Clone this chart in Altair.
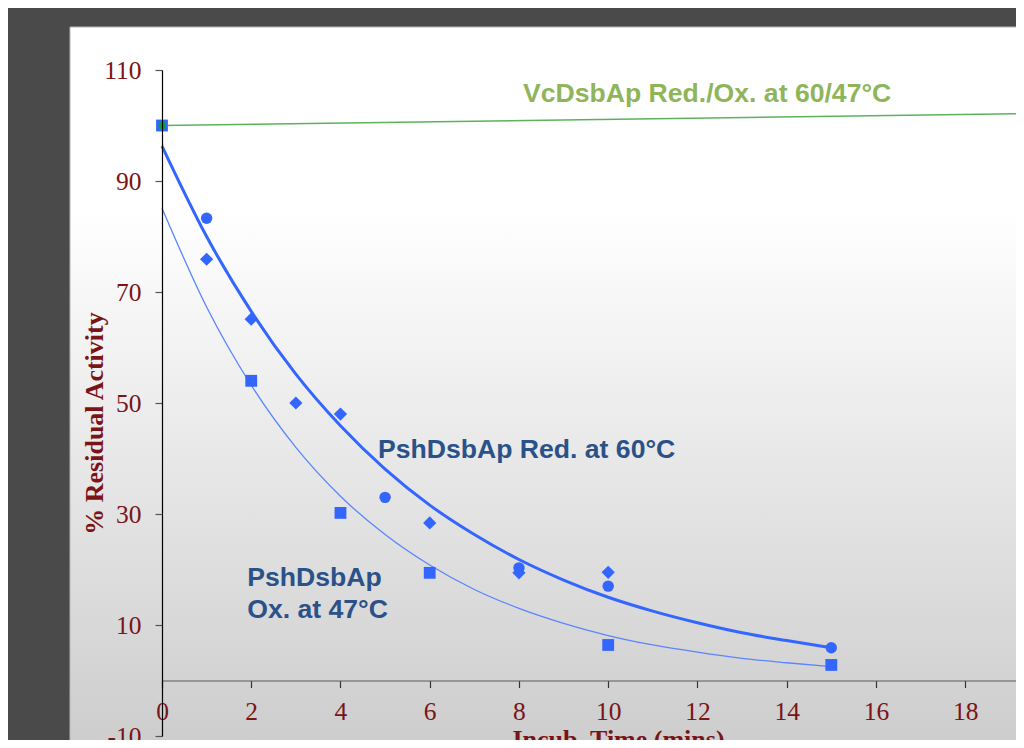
import altair as alt
import pandas as pd

# ---------------- data ----------------
# PshDsbAp Red. at 60°C, replicate 1 (circles)
time_circle = [1, 5, 8, 10, 15]
act_circle = [83.3, 33.0, 20.3, 17.0, 5.9]
# PshDsbAp Red. at 60°C, replicate 2 (diamonds)
time_diamond = [1, 2, 3, 4, 6, 8, 10]
act_diamond = [75.9, 65.1, 50.0, 48.0, 28.4, 19.4, 19.5]
# PshDsbAp Ox. at 47°C (squares)
time_square = [0, 2, 4, 6, 10, 15]
act_square = [100, 54.0, 30.2, 19.4, 6.4, 2.8]
# VcDsbAp Red./Ox. at 60/47°C (green)
time_vc = [0]
act_vc = [100]
vc_line_time = [0, 19.14]
vc_line_act = [100, 102.1]
# fitted decay curves
fit_time = [0, 1, 2, 3, 4, 5, 6, 7, 8, 9, 10, 11, 12, 13, 14, 15]
fit_red = [96.3, 80.0, 66.5, 55.2, 45.9, 38.1, 31.6, 26.3, 21.8, 18.1,
           15.0, 12.5, 10.4, 8.6, 7.2, 5.9]
fit_ox = [85.1, 67.3, 53.2, 42.0, 33.2, 26.3, 20.8, 16.4, 13.0, 10.3,
          8.1, 6.4, 5.1, 4.0, 3.2, 2.5]
# axis ticks
x_ticks = [0, 2, 4, 6, 8, 10, 12, 14, 16, 18]
y_ticks = [-10, 10, 30, 50, 70, 90, 110]
# annotations
label_text = ["VcDsbAp Red./Ox. at 60/47°C", "PshDsbAp Red. at 60°C",
              "PshDsbAp", "Ox. at 47°C"]
label_x = [8.09, 4.84, 1.91, 1.91]
label_y = [104.2, 40.1, 17.0, 11.3]
label_color = ["#8fb55a", "#2b5189", "#2b5189", "#2b5189"]

# ---------------- layout ----------------
W, H = 854, 666
XMAX = 19.14
YMIN, YMAX = -10, 110
DARKRED = "#7a1417"
BLUE = "#3366ff"
ZERO_FROM_BOTTOM = H * (0 - YMIN) / (YMAX - YMIN)

xscale = alt.Scale(domain=[0, XMAX], nice=False, zero=False)
yscale = alt.Scale(domain=[YMIN, YMAX], nice=False, zero=False)

xaxis = alt.Axis(
    values=x_ticks, orient="bottom", offset=-ZERO_FROM_BOTTOM,
    grid=False, domainColor="#5a5a5a", domainWidth=1.2,
    tickColor="#333333", tickSize=7, tickWidth=1.2,
    labelFont="Liberation Serif", labelFontSize=25.5, labelColor=DARKRED,
    labelPadding=12, labelFlush=False, labelOverlap=False,
    labelExpr="toString(datum.value)",
    title="Incub. Time (mins)", titleFont="Liberation Serif", titleFontSize=26,
    titleFontWeight="bold", titleColor=DARKRED, titleX=456, titleY=46,
    titleBaseline="top", titleAlign="center", zindex=1,
)
yaxis = alt.Axis(
    values=y_ticks, orient="left", grid=False,
    domainColor="black", domainWidth=1.2,
    tickColor="#555555", tickSize=7, tickWidth=1.2,
    labelFont="Liberation Serif", labelFontSize=25.5, labelColor=DARKRED,
    labelPadding=14, labelOverlap=False,
    labelExpr="toString(datum.value)",
    title="% Residual Activity", titleFont="Liberation Serif", titleFontSize=26,
    titleFontWeight="bold", titleColor=DARKRED, titleAngle=270,
    titleX=-68, titleY=353, titleAlign="center", titleBaseline="middle", zindex=1,
)

X = alt.X("t:Q", scale=xscale, axis=xaxis)
Y = alt.Y("v:Q", scale=yscale, axis=yaxis)

df_circle = pd.DataFrame({"t": time_circle, "v": act_circle})
df_diamond = pd.DataFrame({"t": time_diamond, "v": act_diamond})
df_square = pd.DataFrame({"t": time_square, "v": act_square})
df_vc = pd.DataFrame({"t": time_vc, "v": act_vc})
df_vc_line = pd.DataFrame({"t": vc_line_time, "v": vc_line_act})
df_red = pd.DataFrame({"t": fit_time, "v": fit_red})
df_ox = pd.DataFrame({"t": fit_time, "v": fit_ox})
df_lab = pd.DataFrame({"t": label_x, "v": label_y, "txt": label_text, "c": label_color})

panel = alt.Chart(pd.DataFrame({"a": [0]})).mark_rect(
    fill={
        "gradient": "linear", "x1": 0, "y1": 0, "x2": 0, "y2": 1,
        "stops": [
            {"offset": 0, "color": "#ffffff"},
            {"offset": 0.25, "color": "#ffffff"},
            {"offset": 1, "color": "#cbcbcb"},
        ],
    },
    stroke="#b5b5b5", strokeWidth=1,
).encode(
    x=alt.value(-92), x2=alt.value(W + 20), y=alt.value(-43), y2=alt.value(H + 30)
)

vc_line = alt.Chart(df_vc_line).mark_line(color="#5cb25c", strokeWidth=1.5).encode(x=X, y=Y)
ox_fit = alt.Chart(df_ox).mark_line(color="#5a85ff", strokeWidth=1.3, interpolate="monotone").encode(x=X, y=Y)
red_fit = alt.Chart(df_red).mark_line(color=BLUE, strokeWidth=3, interpolate="monotone").encode(x=X, y=Y)

circles = alt.Chart(df_circle).mark_point(shape="circle", filled=True, size=130, color=BLUE, opacity=1).encode(x=X, y=Y)
diamonds = alt.Chart(df_diamond).mark_point(shape="diamond", filled=True, size=175, color=BLUE, opacity=1).encode(x=X, y=Y)
squares = alt.Chart(df_square).mark_point(shape="square", filled=True, size=140, color=BLUE, opacity=1).encode(x=X, y=Y)
vc_pts = alt.Chart(df_vc).mark_point(shape="square", filled=True, size=45, color="#0f9a4a", opacity=1).encode(x=X, y=Y)

labels = alt.Chart(df_lab).mark_text(
    align="left", baseline="alphabetic", font="Liberation Sans",
    fontWeight="bold", fontSize=26.6,
).encode(x=X, y=Y, text="txt:N", color=alt.Color("c:N", scale=None))

chart = alt.layer(
    panel, vc_line, ox_fit, red_fit, circles, diamonds, squares, vc_pts, labels
).properties(
    width=W, height=H,
    autosize=alt.AutoSizeParams(type="none"),
    padding={"left": 154, "top": 62, "right": 0, "bottom": 4},
    background="#4a4a4a",
).configure_view(stroke=None)

chart.save("out.html", embed_options={"renderer": "svg", "actions": False})
